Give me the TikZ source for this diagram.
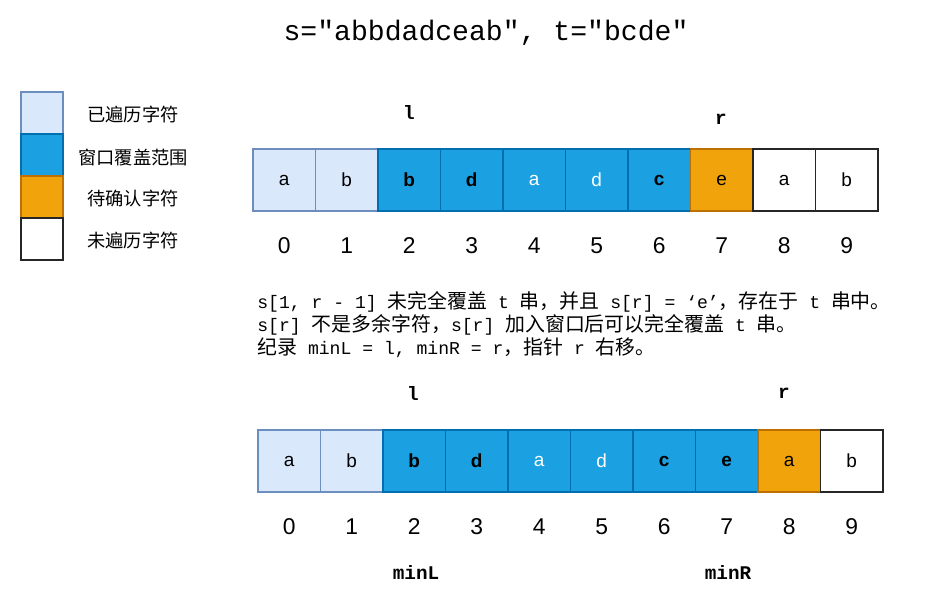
\documentclass[tikz,border=0pt]{standalone}
\usepackage{fontspec}
\setmainfont{Liberation Sans}
\setmonofont{Liberation Mono}
\newfontfamily\cjk{Noto Sans CJK SC}
\newfontfamily\cjkn[Scale=1.1]{Noto Sans CJK SC}
\usetikzlibrary{positioning}
\definecolor{seenfill}{HTML}{DAE8FC}
\definecolor{seenline}{HTML}{6C8EBF}
\definecolor{winfill}{HTML}{1BA1E2}
\definecolor{winline}{HTML}{006EAF}
\definecolor{candfill}{HTML}{F0A30A}
\definecolor{candline}{HTML}{BD7000}
\tikzstyle{cell} = [draw,thick,outer sep=0pt,minimum width=1.25cm,minimum height=1.24cm,inner sep=0pt,font=\fontsize{10.8}{12}\selectfont]
\tikzstyle{seen} = [cell,fill=seenfill,draw=seenline]
\tikzstyle{win} = [cell,fill=winfill,draw=winline,font=\fontsize{10.8}{12}\selectfont\bfseries]
\tikzstyle{winw} = [cell,fill=winfill,draw=winline,text=white]
\tikzstyle{cand} = [cell,fill=candfill,draw=candline]
\tikzstyle{todo} = [cell,fill=white,draw=black!85]
\tikzstyle{key} = [minimum width=0.84cm,minimum height=0.84cm]
\tikzstyle{keytext} = [font=\fontsize{10.4}{13}\cjk]
\tikzstyle{idx} = [font=\fontsize{13}{15}\selectfont]
\tikzstyle{ptr} = [font=\fontsize{11}{13}\selectfont\ttfamily\bfseries]
\tikzstyle{note} = [anchor=west,inner sep=0pt,font=\fontsize{10.3}{13}\selectfont\ttfamily]

\begin{document}
\begin{tikzpicture}[x=0.02cm,y=0.02cm]
    \useasboundingbox (0,0) rectangle (929,-605);

    \node[font=\fontsize{16}{19}\selectfont\ttfamily] (title) at (486,-33) {s="abbdadceab", t="bcde"};

    % legend
    \node[seen, key] (k1) at (42,-113) {};
    \node[win, key, below=0pt of k1] (k2) {};
    \node[cand, key, below=0pt of k2] (k3) {};
    \node[todo, key, below=0pt of k3] (k4) {};
    \node[keytext] (t1) at (133,-114) {已遍历字符};
    \node[keytext] (t2) at (133,-158) {窗口覆盖范围};
    \node[keytext] (t3) at (133,-198) {待确认字符};
    \node[keytext] (t4) at (133,-240) {未遍历字符};

    % first row
    \node[seen] (a0) at (284.25,-180) {a};
    \foreach \i/\j/\c/\s in {1/0/b/seen, 2/1/b/win, 3/2/d/win, 4/3/a/winw, 5/4/d/winw,
                             6/5/c/win, 7/6/e/cand, 8/7/a/todo, 9/8/b/todo}
        \node[\s, right=0pt of a\j] (a\i) {\c};
    \foreach \i in {0,...,9}
        \node[idx] (ia\i) at ([yshift=-1.32cm]a\i.center) {\i};
    \node[ptr] (l1) at (409,-112) {l};
    \node[ptr] (r1) at (721,-119) {r};

    % notes
    \node[note] (n1) at (257,-302) {s[1, r - 1] {\cjkn 未完全覆盖} t {\cjkn 串，并且} s[r] = ‘e’{\cjkn ，存在于} t {\cjkn 串中。}};
    \node[note] (n2) at (257,-325) {s[r] {\cjkn 不是多余字符，}s[r] {\cjkn 加入窗口后可以完全覆盖} t {\cjkn 串。}};
    \node[note] (n3) at (257,-348) {{\cjkn 纪录} minL = l, minR = r{\cjkn ，指针} r {\cjkn 右移。}};

    % second row
    \node[seen] (b0) at (289.25,-461) {a};
    \foreach \i/\j/\c/\s in {1/0/b/seen, 2/1/b/win, 3/2/d/win, 4/3/a/winw, 5/4/d/winw,
                             6/5/c/win, 7/6/e/win, 8/7/a/cand, 9/8/b/todo}
        \node[\s, right=0pt of b\j] (b\i) {\c};
    \foreach \i in {0,...,9}
        \node[idx] (ib\i) at ([yshift=-1.32cm]b\i.center) {\i};
    \node[ptr] (l2) at (413,-393) {l};
    \node[ptr] (r2) at (784,-393) {r};
    \node[ptr] (minl) at (416,-572) {minL};
    \node[ptr] (minr) at (728,-572) {minR};
\end{tikzpicture}
\end{document}
